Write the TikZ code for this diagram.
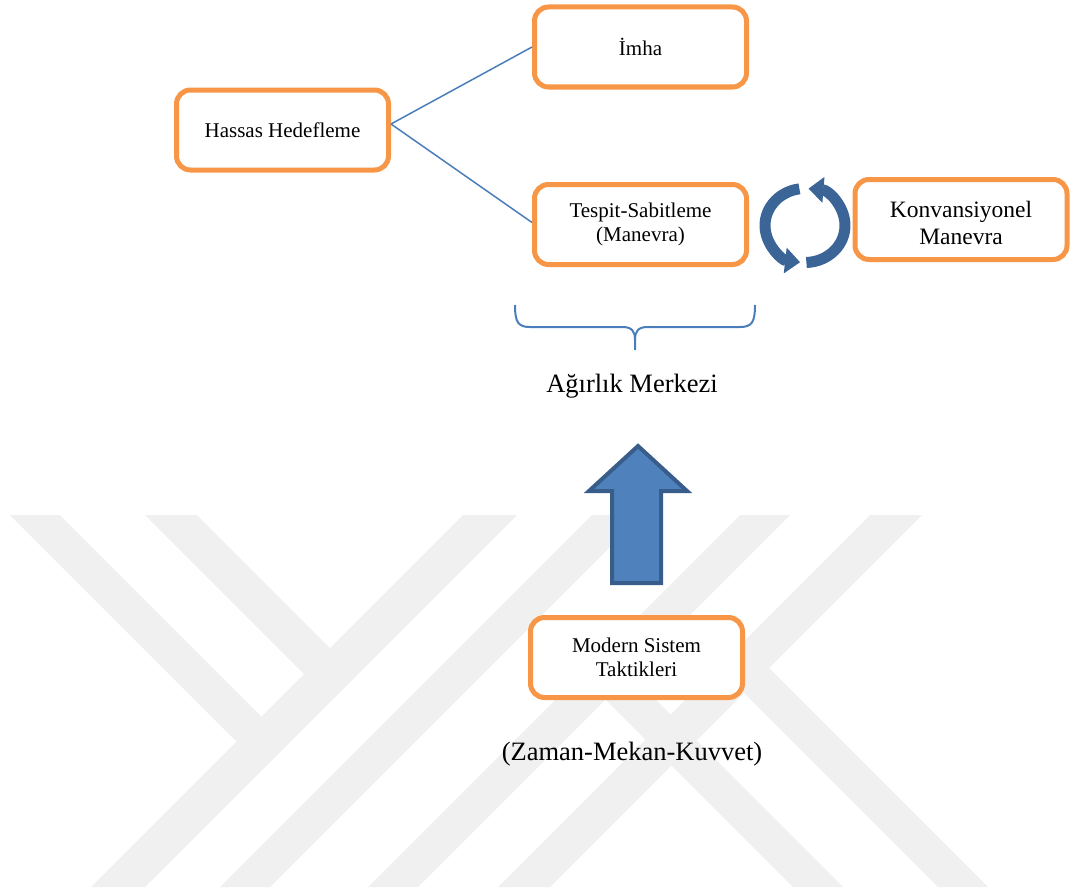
\documentclass[tikz,border=0pt]{standalone}
\usepackage{fontspec}
\setmainfont{Liberation Serif}
\usetikzlibrary{arrows.meta}
\definecolor{boxorange}{HTML}{F79646}
\definecolor{linkblue}{HTML}{4A7EBB}
\definecolor{arrowfill}{HTML}{4F81BD}
\definecolor{arrowedge}{HTML}{385D8A}
\definecolor{cycleblue}{HTML}{3B6497}
\definecolor{wmgray}{HTML}{F0F0F0}
\begin{document}
\begin{tikzpicture}[x=1pt,y=-1pt,
  box/.style={draw=boxorange, line width=5pt, rounded corners=14pt, fill=white,
    minimum width=212pt, minimum height=80pt, align=center, inner sep=0pt,
    font=\fontsize{21}{24}\selectfont},
  conn/.style={draw=linkblue, line width=1.5pt},
  wm/.style={fill=wmgray, draw=none},
  freetext/.style={anchor=base, inner sep=0pt, font=\fontsize{26.5}{30}\selectfont},
  bracepath/.style={draw=linkblue, line width=2pt},
  cyc/.style={draw=cycleblue, line width=11pt, -{Triangle[width=25pt,length=15pt]}},
  bigarrow/.style={fill=arrowfill, draw=arrowedge, line width=4pt, line join=miter}
]
\useasboundingbox (0,0) rectangle (1071,891);
% watermark
\fill[wm] (463,515) -- (517,515) -- (145,887) -- (91,887) -- cycle;
\fill[wm] (592,515) -- (642,515) -- (270,887) -- (220,887) -- cycle;
\fill[wm] (740,515) -- (790,515) -- (418,887) -- (368,887) -- cycle;
\fill[wm] (870,515) -- (922,515) -- (550,887) -- (498,887) -- cycle;
\fill[wm] (10,515) -- (60,515) -- (288.5,743.5) -- (263.5,768.5) -- cycle;
\fill[wm] (145,515) -- (197,515) -- (357,675) -- (331,701) -- cycle;
\fill[wm] (580.5,674.5) -- (605.5,649.5) -- (843,887) -- (793,887) -- cycle;
\fill[wm] (718,667) -- (743,642) -- (988,887) -- (938,887) -- cycle;

% boxes
\node[box] (imha) at (640.5,47) {İmha};
\node[box] (hassas) at (282.5,130) {Hassas Hedefleme};
\node[box] (tespit) at (640.5,224.5) {Tespit-Sabitleme\\(Manevra)};
\node[box, font=\fontsize{23.5}{27}\selectfont] (konv) at (961,219.5) {\rule{0pt}{23pt}Konvansiyonel\\Manevra};
\node[box] (modern) at (636.5,657.5) {Modern Sistem\\Taktikleri};

% connectors
\draw[conn] ([yshift=6pt]hassas.east) -- (imha.west);
\draw[conn] ([yshift=6pt]hassas.east) -- ([yshift=2pt]tespit.west);

% cycle arrows
\coordinate (cyc) at (805,225.5);
\draw[cyc] (cyc) ++(262:40 and 37) arc[start angle=262, end angle=97, x radius=40, y radius=37];
\draw[cyc] (cyc) ++(88:40 and 37) arc[start angle=88, end angle=-85, x radius=40, y radius=37];

% brace
\draw[bracepath] (515,305) .. controls (515,322) and (518,327) .. (530,327) -- (622,327)
  .. controls (632,327) and (635,331) .. (635,340) -- (635,350);
\draw[bracepath] (755,305) .. controls (755,322) and (752,327) .. (740,327) -- (648,327)
  .. controls (638,327) and (635,331) .. (635,340);

\node[freetext] (agirlik) at (632,392) {Ağırlık Merkezi};

% big arrow
\draw[bigarrow] (638,446) -- (687,491) -- (661,491) -- (661,583) -- (612,583) -- (612,491) -- (589,491) -- cycle;

\node[freetext] (zmk) at (632,760) {(Zaman-Mekan-Kuvvet)};
\end{tikzpicture}
\end{document}
